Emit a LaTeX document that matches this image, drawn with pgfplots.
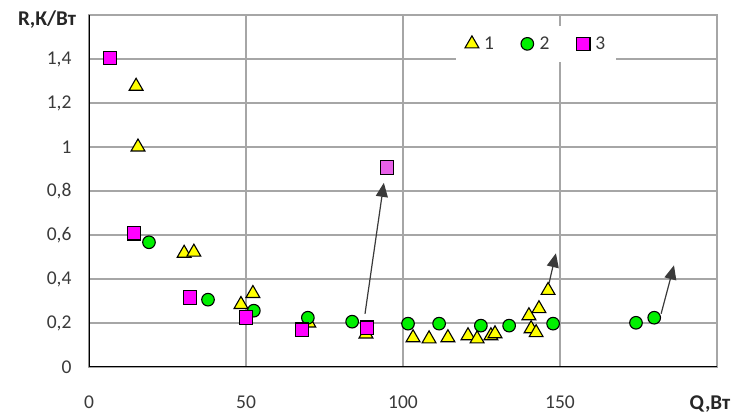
\documentclass[border=0pt]{standalone}
\usepackage{fontspec}
\setmainfont{Carlito}
\usepackage{pgfplots}
\pgfplotsset{compat=1.18}
\usetikzlibrary{arrows.meta}
\definecolor{gridc}{HTML}{A6A6A6}
\definecolor{tickc}{HTML}{3A3A3A}
\definecolor{yel}{HTML}{FFFF00}
\definecolor{grn}{HTML}{00F000}
\definecolor{mag}{HTML}{FF00FF}
\definecolor{mag2}{HTML}{E860E8}
\definecolor{arr}{HTML}{3A3A3A}
\begin{document}
\begin{tikzpicture}
\path[use as bounding box] (-89bp,-48bp) rectangle (646bp,367bp);
\begin{axis}[
  scale only axis, width=628bp, height=352bp,
  xmin=0, xmax=200, ymin=0, ymax=1.6,
  xtick={0,50,100,150}, ytick={0,0.2,0.4,0.6,0.8,1,1.2,1.4},
  grid=major, major grid style={gridc, line width=1.3bp},
  axis line style={gridc, line width=1.3bp},
  major tick length=0pt,
  tick label style={font=\fontsize{19.5bp}{22bp}\selectfont, text=tickc},
  /pgf/number format/assume math mode=true,
  /pgf/number format/use comma,
  /pgf/number format/fixed,
  xticklabel style={yshift=-25bp},
  yticklabel style={xshift=-14bp},
  legend columns=3,
  legend style={at={(0.712,0.918)}, anchor=center, draw=none, fill=white,
    font=\fontsize{19.5bp}{22bp}\selectfont, text=tickc,
    inner xsep=9bp, inner ysep=9bp,
    /tikz/every even column/.append style={column sep=25bp}},
  legend image code/.code={\path[draw=none,fill=none] (0cm,0cm) -- (0.55cm,0cm);\draw[mark repeat=2,mark phase=2,#1] plot coordinates {(0cm,0cm) (0.19cm,0cm) (0.38cm,0cm)};},
]
\addplot[only marks, mark=triangle*, mark size=8bp, mark options={fill=yel, draw=black, line width=1.1bp}] coordinates {
(15.0,1.276) (15.6,1.00) (30.3,0.517) (33.4,0.522) (48.4,0.284) (52.2,0.334)
(70.0,0.20) (88.2,0.15) (103.2,0.133) (108.3,0.128) (114.3,0.133) (120.7,0.142)
(123.6,0.128) (128.0,0.142) (129.3,0.151) (140.1,0.233) (143.3,0.265) (140.8,0.174)
(142.4,0.156) (146.2,0.348)
};
\addlegendentry{1}
\addplot[only marks, mark=*, mark size=6.3bp, mark options={fill=grn, draw=black, line width=1.1bp}] coordinates {
(19.1,0.567) (37.9,0.306) (52.5,0.256) (69.7,0.224) (83.8,0.206) (101.6,0.197)
(111.5,0.197) (124.8,0.188) (133.8,0.188) (147.8,0.197) (174.2,0.201) (180.0,0.224)
};
\addlegendentry{2}
\addplot[only marks, mark=square*, mark size=6.8bp, mark options={fill=mag, draw=black, line width=1.1bp}] coordinates {
(6.7,1.404) (14.3,0.608) (32.2,0.316) (50.0,0.224) (67.8,0.169) (88.5,0.178)
};
\addlegendentry{3}
\addplot[only marks, mark=square*, mark size=6.8bp, mark options={fill=mag2, draw=black, line width=1.1bp}, forget plot] coordinates {
(94.9,0.906)
};
\draw[black, line width=2.6bp] (rel axis cs:0,1) -- (rel axis cs:0,0) -- (rel axis cs:1,0);
\draw[arr, line width=1.2bp, -{Triangle[length=14bp,width=12bp]}] (axis cs:87.9,0.242) -- (axis cs:93.9,0.837);
\draw[arr, line width=1.2bp, -{Triangle[length=14bp,width=12bp]}] (axis cs:146.5,0.380) -- (axis cs:148.7,0.517);
\draw[arr, line width=1.2bp, -{Triangle[length=14bp,width=12bp]}] (axis cs:182.2,0.242) -- (axis cs:186.3,0.462);
\end{axis}
\node[font=\bfseries\fontsize{21bp}{24bp}\selectfont, text=black!85] at (621bp,-37bp) {Q,Вт};
\node[font=\bfseries\fontsize{21bp}{24bp}\selectfont, text=black!85] at (-42bp,347bp) {R,К/Вт};
\end{tikzpicture}
\end{document}
